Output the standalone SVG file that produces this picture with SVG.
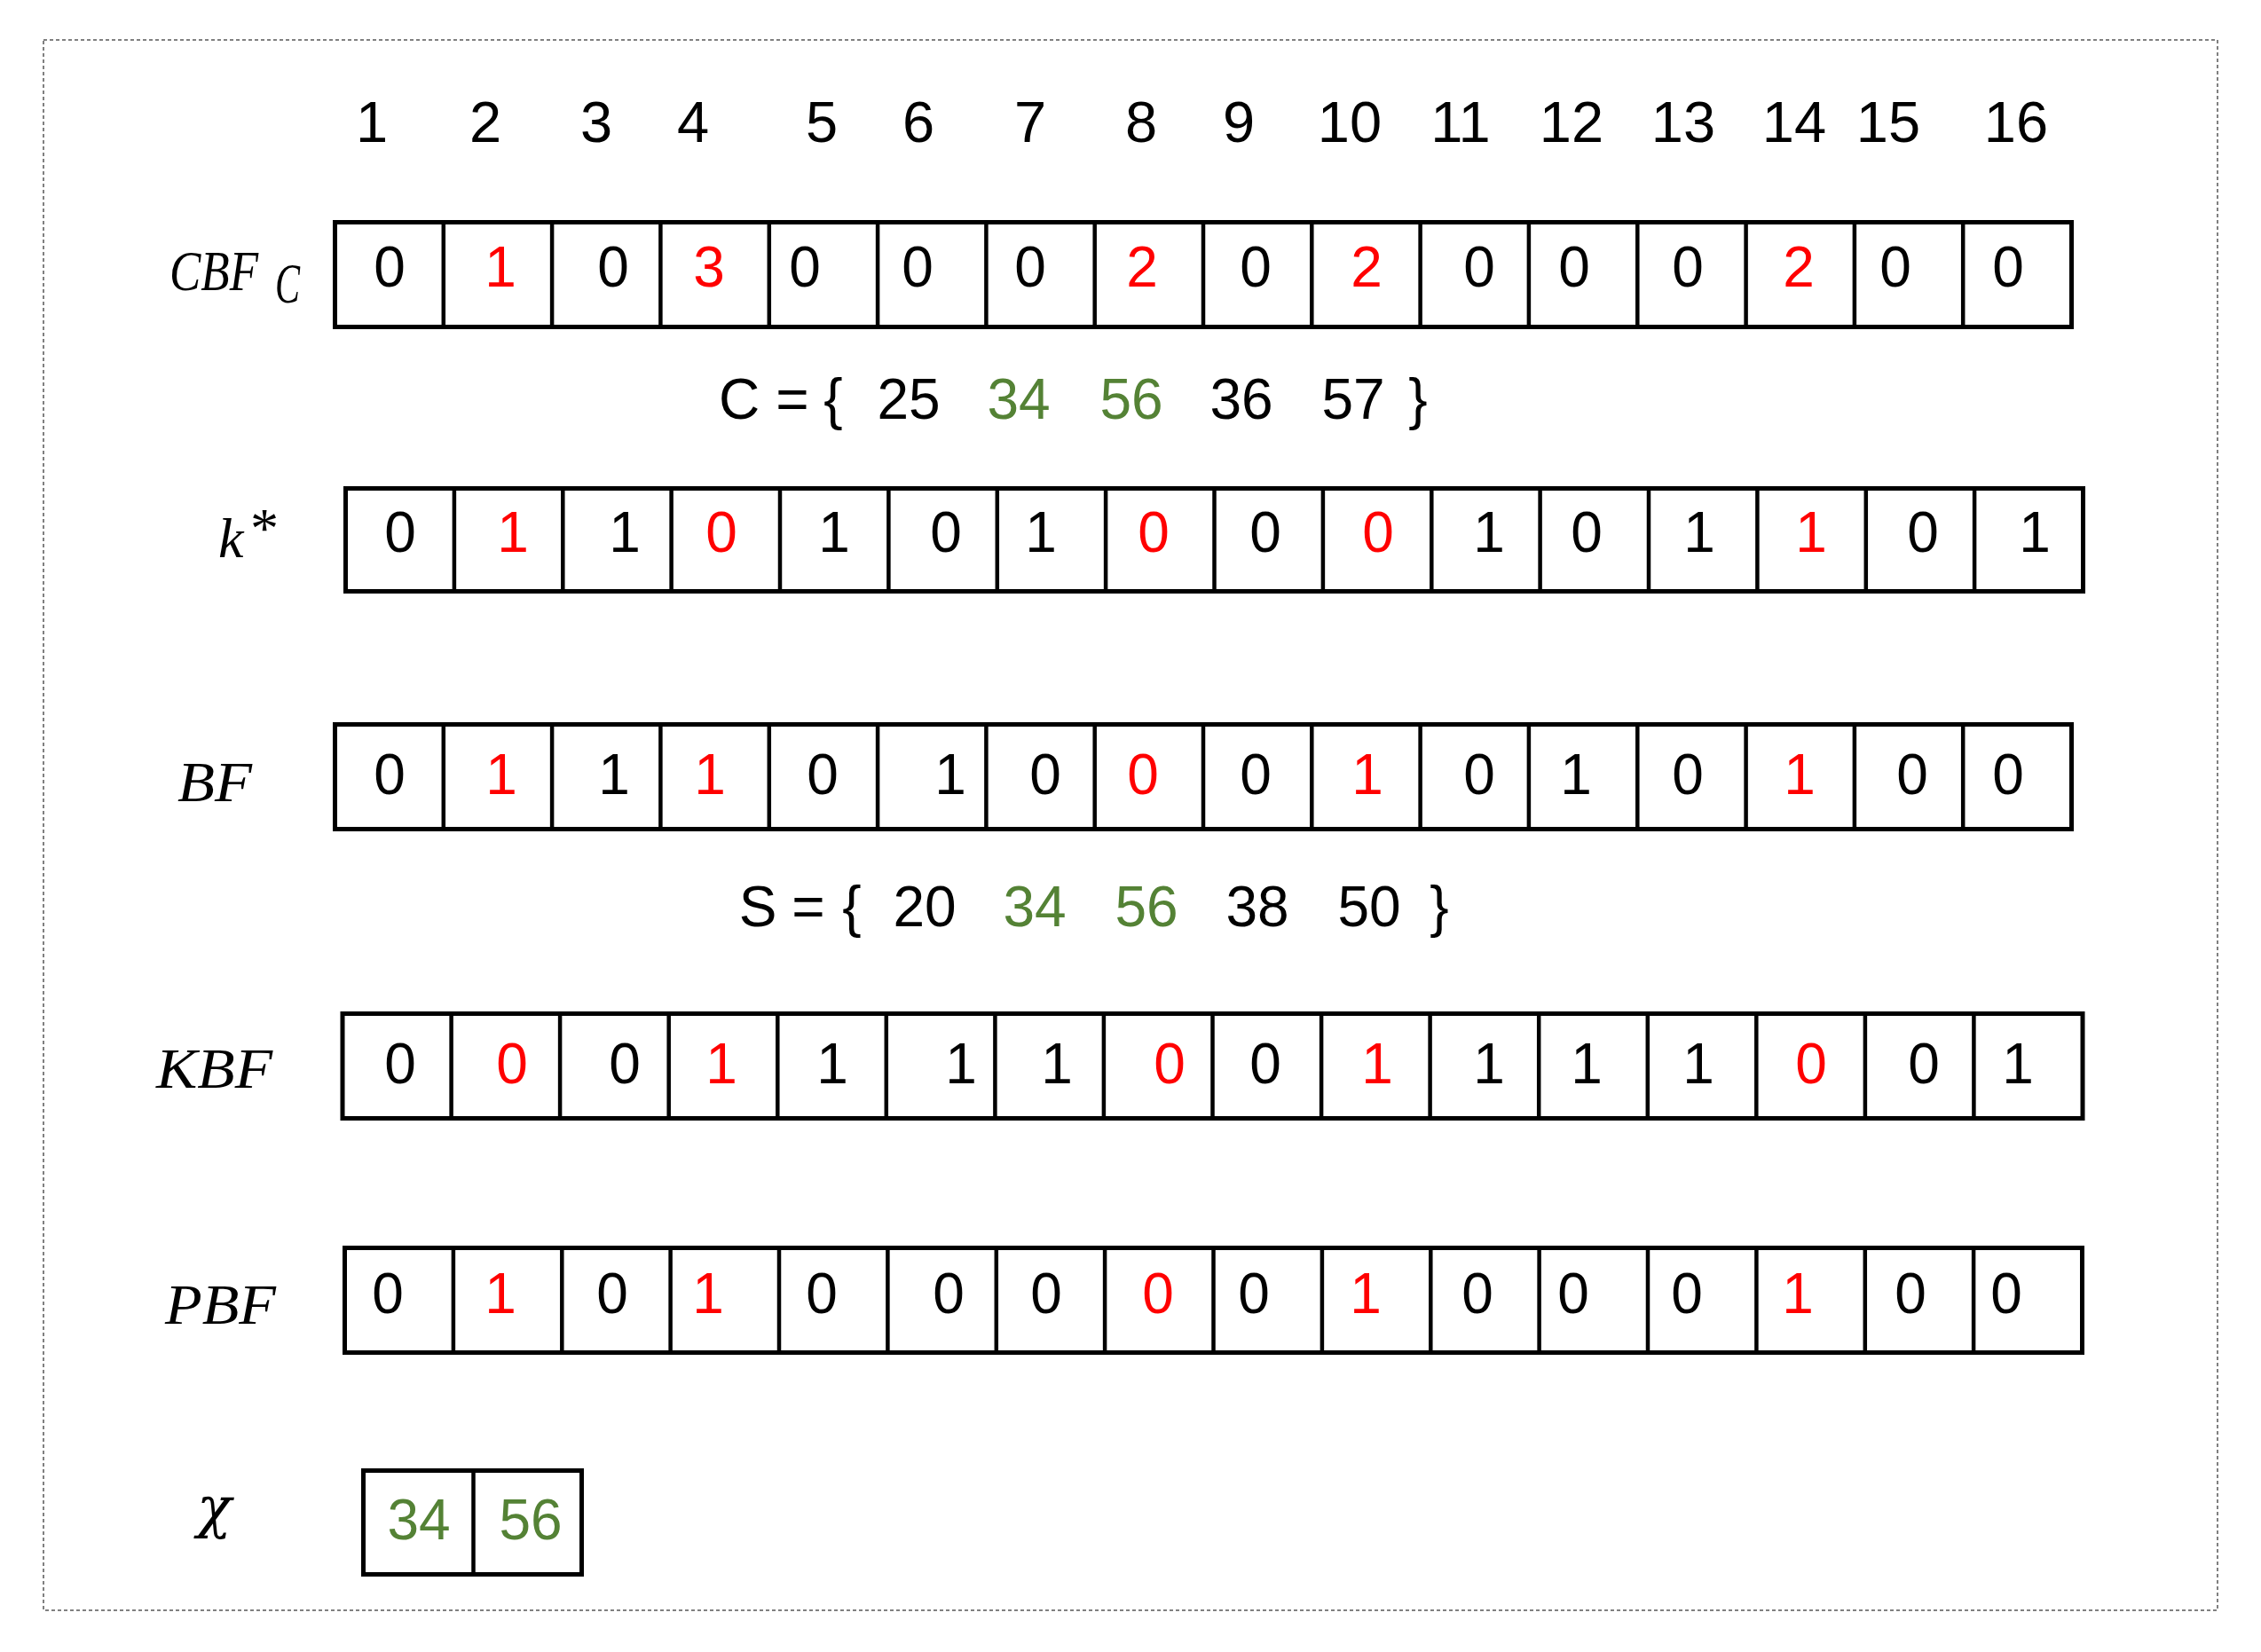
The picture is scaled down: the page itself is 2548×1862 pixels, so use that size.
<svg xmlns="http://www.w3.org/2000/svg" width="2548" height="1862" viewBox="0 0 2548 1862">
<style>
.frame{fill:none;stroke:#808080;stroke-width:2;stroke-dasharray:4 3}
.box{fill:#fff;stroke:#000;stroke-width:5}
.div{fill:none;stroke:#000;stroke-width:4.5}
text{font-family:"Liberation Sans",Arial,sans-serif;font-size:64px;text-anchor:middle;fill:#000}
.h{font-size:65px}
.r{fill:#ff0000}
.g{fill:#548235}
.lbl{font-family:"Liberation Serif","Times New Roman",serif;font-style:italic;text-anchor:start}
.gr{font-family:"DejaVu Serif","Liberation Serif",serif;font-style:italic;text-anchor:start}
</style>
<rect width="2548" height="1862" fill="#fff"/>
<rect class="frame" x="49" y="45" width="2450" height="1770"/>
<g id="connectors"/>
<g id="header">
<text class="h" x="419" y="160">1</text><text class="h" x="547" y="160">2</text><text class="h" x="672" y="160">3</text><text class="h" x="781" y="160">4</text><text class="h" x="926" y="160">5</text><text class="h" x="1035" y="160">6</text><text class="h" x="1161" y="160">7</text><text class="h" x="1286" y="160">8</text><text class="h" x="1396" y="160">9</text><text class="h" x="1521" y="160">10</text><text class="h" x="1646" y="160">11</text><text class="h" x="1771" y="160">12</text><text class="h" x="1897" y="160">13</text><text class="h" x="2022" y="160">14</text><text class="h" x="2128" y="160">15</text><text class="h" x="2272" y="160">16</text>
</g>
<g id="cbf">
<text class="lbl" x="191" y="327" font-size="72" textLength="100" lengthAdjust="spacingAndGlyphs">CBF</text>
<text class="lbl" x="310" y="341" font-size="46" textLength="28" lengthAdjust="spacingAndGlyphs">C</text>
<rect class="box" x="377.5" y="250.5" width="1957" height="118"/>
<path class="div" d="M499.8 250.5V368.5M622.1 250.5V368.5M744.4 250.5V368.5M866.8 250.5V368.5M989.1 250.5V368.5M1111.4 250.5V368.5M1233.7 250.5V368.5M1356 250.5V368.5M1478.3 250.5V368.5M1600.6 250.5V368.5M1722.9 250.5V368.5M1845.3 250.5V368.5M1967.6 250.5V368.5M2089.9 250.5V368.5M2212.2 250.5V368.5"/>
<text x="439" y="323">0</text><text class="r" x="564" y="323">1</text><text x="691" y="323">0</text><text class="r" x="799" y="323">3</text><text x="907" y="323">0</text><text x="1034" y="323">0</text><text x="1161" y="323">0</text><text class="r" x="1287" y="323">2</text><text x="1415" y="323">0</text><text class="r" x="1540" y="323">2</text><text x="1667" y="323">0</text><text x="1774" y="323">0</text><text x="1902" y="323">0</text><text class="r" x="2027" y="323">2</text><text x="2136" y="323">0</text><text x="2263" y="323">0</text>
</g>
<g id="setC">
<text x="833" y="472">C</text><text x="893" y="472">=</text><text x="939" y="472">{</text><text x="1024" y="472">25</text><text class="g" x="1148" y="472">34</text><text class="g" x="1275" y="472">56</text><text x="1399" y="472">36</text><text x="1525" y="472">57</text><text x="1598" y="472">}</text>
</g>
<g id="kstar">
<text class="lbl" x="246" y="628" font-size="72">k</text>
<text class="lbl" x="279" y="617" font-size="44">*</text>
<rect class="box" x="389.5" y="550.5" width="1958" height="116"/>
<path class="div" d="M511.9 550.5V666.5M634.3 550.5V666.5M756.6 550.5V666.5M879 550.5V666.5M1001.4 550.5V666.5M1123.8 550.5V666.5M1246.1 550.5V666.5M1368.5 550.5V666.5M1490.9 550.5V666.5M1613.3 550.5V666.5M1735.6 550.5V666.5M1858 550.5V666.5M1980.4 550.5V666.5M2102.8 550.5V666.5M2225.1 550.5V666.5"/>
<text x="451" y="622">0</text><text class="r" x="578" y="622">1</text><text x="704" y="622">1</text><text class="r" x="813" y="622">0</text><text x="940" y="622">1</text><text x="1066" y="622">0</text><text x="1173" y="622">1</text><text class="r" x="1300" y="622">0</text><text x="1426" y="622">0</text><text class="r" x="1553" y="622">0</text><text x="1678" y="622">1</text><text x="1788" y="622">0</text><text x="1915" y="622">1</text><text class="r" x="2041" y="622">1</text><text x="2167" y="622">0</text><text x="2293" y="622">1</text>
</g>
<g id="bf">
<text class="lbl" x="200" y="903" font-size="72" textLength="84" lengthAdjust="spacingAndGlyphs">BF</text>
<rect class="box" x="377.5" y="816.5" width="1957" height="118"/>
<path class="div" d="M499.8 816.5V934.5M622.1 816.5V934.5M744.4 816.5V934.5M866.8 816.5V934.5M989.1 816.5V934.5M1111.4 816.5V934.5M1233.7 816.5V934.5M1356 816.5V934.5M1478.3 816.5V934.5M1600.6 816.5V934.5M1722.9 816.5V934.5M1845.3 816.5V934.5M1967.6 816.5V934.5M2089.9 816.5V934.5M2212.2 816.5V934.5"/>
<text x="439" y="895">0</text><text class="r" x="565" y="895">1</text><text x="692" y="895">1</text><text class="r" x="800" y="895">1</text><text x="927" y="895">0</text><text x="1071" y="895">1</text><text x="1178" y="895">0</text><text class="r" x="1288" y="895">0</text><text x="1415" y="895">0</text><text class="r" x="1541" y="895">1</text><text x="1667" y="895">0</text><text x="1776" y="895">1</text><text x="1902" y="895">0</text><text class="r" x="2028" y="895">1</text><text x="2155" y="895">0</text><text x="2263" y="895">0</text>
</g>
<g id="setS">
<text x="854" y="1044">S</text><text x="911" y="1044">=</text><text x="960" y="1044">{</text><text x="1042" y="1044">20</text><text class="g" x="1166" y="1044">34</text><text class="g" x="1292" y="1044">56</text><text x="1417" y="1044">38</text><text x="1543" y="1044">50</text><text x="1622" y="1044">}</text>
</g>
<g id="kbf">
<text class="lbl" x="176" y="1226" font-size="71" textLength="131" lengthAdjust="spacingAndGlyphs">KBF</text>
<rect class="box" x="386" y="1142.5" width="1961" height="118"/>
<path class="div" d="M508.6 1142.5V1260.5M631.1 1142.5V1260.5M753.7 1142.5V1260.5M876.3 1142.5V1260.5M998.8 1142.5V1260.5M1121.4 1142.5V1260.5M1243.9 1142.5V1260.5M1366.5 1142.5V1260.5M1489.1 1142.5V1260.5M1611.6 1142.5V1260.5M1734.2 1142.5V1260.5M1856.8 1142.5V1260.5M1979.3 1142.5V1260.5M2101.9 1142.5V1260.5M2224.4 1142.5V1260.5"/>
<text x="451" y="1221">0</text><text class="r" x="577" y="1221">0</text><text x="704" y="1221">0</text><text class="r" x="813" y="1221">1</text><text x="938" y="1221">1</text><text x="1083" y="1221">1</text><text x="1191" y="1221">1</text><text class="r" x="1318" y="1221">0</text><text x="1426" y="1221">0</text><text class="r" x="1552" y="1221">1</text><text x="1678" y="1221">1</text><text x="1788" y="1221">1</text><text x="1914" y="1221">1</text><text class="r" x="2041" y="1221">0</text><text x="2168" y="1221">0</text><text x="2274" y="1221">1</text>
</g>
<g id="pbf">
<text class="lbl" x="186" y="1492" font-size="73" textLength="125" lengthAdjust="spacingAndGlyphs">PBF</text>
<rect class="box" x="388.5" y="1406.5" width="1958" height="118"/>
<path class="div" d="M510.9 1406.5V1524.5M633.3 1406.5V1524.5M755.6 1406.5V1524.5M878 1406.5V1524.5M1000.4 1406.5V1524.5M1122.8 1406.5V1524.5M1245.1 1406.5V1524.5M1367.5 1406.5V1524.5M1489.9 1406.5V1524.5M1612.3 1406.5V1524.5M1734.6 1406.5V1524.5M1857 1406.5V1524.5M1979.4 1406.5V1524.5M2101.8 1406.5V1524.5M2224.1 1406.5V1524.5"/>
<text x="437" y="1480">0</text><text class="r" x="564" y="1480">1</text><text x="690" y="1480">0</text><text class="r" x="798" y="1480">1</text><text x="926" y="1480">0</text><text x="1069" y="1480">0</text><text x="1179" y="1480">0</text><text class="r" x="1305" y="1480">0</text><text x="1413" y="1480">0</text><text class="r" x="1539" y="1480">1</text><text x="1665" y="1480">0</text><text x="1773" y="1480">0</text><text x="1901" y="1480">0</text><text class="r" x="2026" y="1480">1</text><text x="2153" y="1480">0</text><text x="2261" y="1480">0</text>
</g>
<g id="chi">
<text class="gr" x="222" y="1721" font-size="64">χ</text>
<rect class="box" x="409.5" y="1657.5" width="246" height="117"/>
<path class="div" d="M533.5 1657.5V1774.5"/>
<text class="g" x="472" y="1735">34</text><text class="g" x="598" y="1735">56</text>
</g>
</svg>
